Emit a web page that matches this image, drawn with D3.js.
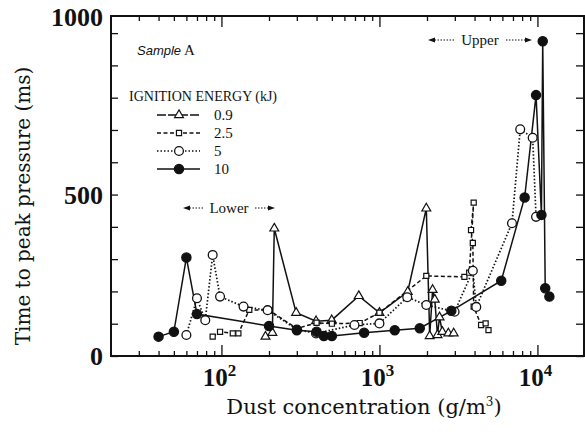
<!DOCTYPE html>
<html>
<head>
<meta charset="utf-8">
<script src="https://cdn.jsdelivr.net/npm/d3@7.9.0/dist/d3.min.js"></script>
<style>
  body { margin: 0; background: #fff; }
  svg { display: block; }
  text { fill: #111; }
</style>
</head>
<body>
<svg id="chart" width="585" height="436"></svg>
<script>
// data: [dust concentration g/m3, time to peak pressure ms]
const e09 = [[190,60],[210,72],[216,395],[297,134],[397,108],[499,111],[740,186],[1000,134],[1510,199],
  [1980,457],[2080,62],[2170,205],[2240,175],[2330,65],[2400,120],[2500,75],[2730,70],[2950,70]];
const e25 = [[88,60],[98,75],[118,70],[128,70],[150,143],[200,142],[300,85],[400,103],[500,100],[750,102],
  [1000,134],[1980,248],[3450,245],[3700,258],[3950,475],[3800,390],[3900,350],[3950,153],[4400,96],[4700,101],[4900,80]];
const e5 = [[60,65],[70,179],[79,111],[88,313],[98,184],[138,153],[196,142],[300,82],[397,70],[695,96],
  [1000,101],[1500,182],[1980,158],[2990,137],[3900,264],[4100,152],[6900,411],[7780,702],[9330,676],[9800,431]];
const e10 = [[40,60],[50,75],[60,305],[70,130],[200,93],[300,80],[400,75],[445,62],[500,62],[800,72],
  [1250,80],[1800,86],[2850,140],[5900,233],[8300,491],[9800,808],[10600,437],[10800,975],[11200,210],[11900,184]];

const energies = ['0.9', '2.5', '5', '10'];
const yTicks = [0,100,200,300,400,500,600,700,800,900,1000];
const yLabels = [0, 500, 1000];
const xDecades = [100, 1000, 10000];

const series = [
  { label: energies[0], data: e09, marker: 'triangle', dash: null },
  { label: energies[1], data: e25, marker: 'square', dash: '4,2.5' },
  { label: energies[2], data: e5, marker: 'open', dash: '1.5,2' },
  { label: energies[3], data: e10, marker: 'filled', dash: null }
];

const svg = d3.select('#chart');
const pLeft = 111, pRight = 584, pTop = 16, pBottom = 356;

const x = d3.scaleLog().domain([20, 20000]).range([pLeft, 585]);
const y = d3.scaleLinear().domain([0, 1053]).range([pBottom, pTop]);

const serif = "'Liberation Serif', 'DejaVu Serif', serif";
const wideSerif = "'DejaVu Serif', serif";

// minor log ticks
let xMinor = [];
for (const dec of [10, 100, 1000, 10000]) {
  for (let k = 2; k <= 9; k++) {
    const v = dec * k;
    if (v > 20 && v < 20000) xMinor.push(v);
  }
}

const axisStyle = g => {
  g.select('.domain').remove();
  g.selectAll('.tick line').attr('stroke', '#111').attr('stroke-width', 1.3);
  g.selectAll('.tick text').remove();
};

// bottom & top ticks
svg.append('g').attr('transform', `translate(0,${pBottom})`)
  .call(d3.axisBottom(x).tickValues(xMinor).tickSize(-5)).call(axisStyle);
svg.append('g').attr('transform', `translate(0,${pBottom})`)
  .call(d3.axisBottom(x).tickValues(xDecades).tickSize(-11)).call(axisStyle);
svg.append('g').attr('transform', `translate(0,${pTop})`)
  .call(d3.axisTop(x).tickValues(xMinor).tickSize(-5)).call(axisStyle);
svg.append('g').attr('transform', `translate(0,${pTop})`)
  .call(d3.axisTop(x).tickValues(xDecades).tickSize(-11)).call(axisStyle);

// left & right ticks
svg.append('g').attr('transform', `translate(${pLeft},0)`)
  .call(d3.axisLeft(y).tickValues(yTicks).tickSize(-7)).call(axisStyle);
svg.append('g').attr('transform', `translate(${pRight},0)`)
  .call(d3.axisRight(y).tickValues(yTicks).tickSize(-8)).call(axisStyle);

// frame
svg.append('rect')
  .attr('x', pLeft).attr('y', pTop)
  .attr('width', pRight - pLeft).attr('height', pBottom - pTop)
  .attr('fill', 'none').attr('stroke', '#111').attr('stroke-width', 2);

// y tick labels (the 1000 label sits at the top of the frame in the original)
svg.selectAll('.ylab').data(yLabels).join('text')
  .attr('x', 103)
  .attr('y', d => d === 1000 ? y(1050) : y(d))
  .attr('dy', '0.35em')
  .attr('text-anchor', 'end')
  .style('font-family', serif).style('font-weight', 'bold').style('font-size', '26px')
  .text(d => d);

// x tick labels 10^n
const xl = svg.selectAll('.xlab').data(xDecades).join('text')
  .attr('x', d => x(d) - 2)
  .attr('y', 386)
  .attr('text-anchor', 'middle')
  .style('font-family', serif).style('font-weight', 'bold').style('font-size', '25px');
xl.append('tspan').text('10');
xl.append('tspan').attr('dy', -10).style('font-size', '17px').text(d => Math.round(Math.log10(d)));

// axis titles
svg.append('text')
  .attr('x', 364).attr('y', 414).attr('text-anchor', 'middle')
  .style('font-family', wideSerif).style('font-size', '21px')
  .html('Dust concentration (g/m<tspan dy="-8" font-size="12">3</tspan><tspan dy="8">)</tspan>');

svg.append('text')
  .attr('transform', 'translate(30,206) rotate(-90)')
  .attr('text-anchor', 'middle')
  .style('font-family', wideSerif).style('font-size', '20px')
  .text('Time to peak pressure (ms)');

// lines
const line = d3.line().x(d => x(d[0])).y(d => y(d[1]));
series.forEach(s => {
  svg.append('path')
    .attr('d', line(s.data))
    .attr('fill', 'none')
    .attr('stroke', '#111')
    .attr('stroke-width', s.marker === 'open' ? 1.7 : 1.5)
    .attr('stroke-dasharray', s.dash);
});

function drawMarker(g, kind, cx, cy) {
  if (kind === 'filled' || kind === 'open') {
    g.append('circle').attr('cx', cx).attr('cy', cy).attr('r', kind === 'filled' ? 4.6 : 4.4)
      .attr('fill', kind === 'filled' ? '#111' : '#fff')
      .attr('stroke', '#111').attr('stroke-width', 1.3);
  } else {
    const sym = kind === 'square' ? d3.symbolSquare : d3.symbolTriangle;
    const size = kind === 'square' ? 26 : 34;
    g.append('path').attr('d', d3.symbol().type(sym).size(size)())
      .attr('transform', `translate(${cx},${cy})`)
      .attr('fill', '#fff').attr('stroke', '#111').attr('stroke-width', 1.2);
  }
}

series.forEach(s => {
  const g = svg.append('g');
  s.data.forEach(d => drawMarker(g, s.marker, x(d[0]), y(d[1])));
});

// legend
svg.append('text').attr('x', 137).attr('y', 55)
  .style('font-size', '13px')
  .html("<tspan font-family=\"'Liberation Sans', sans-serif\" font-style=\"italic\">Sample</tspan><tspan font-family=\"'Liberation Serif', serif\" font-size=\"15\"> A</tspan>");

svg.append('text').attr('x', 129).attr('y', 101)
  .style('font-family', serif).style('font-size', '14px')
  .text('IGNITION ENERGY (kJ)');

const legendY = [115, 133, 151, 169];
series.forEach((s, i) => {
  const g = svg.append('g');
  g.append('line').attr('x1', 157).attr('x2', 200).attr('y1', legendY[i]).attr('y2', legendY[i])
    .attr('stroke', '#111').attr('stroke-width', 1.4)
    .attr('stroke-dasharray', i === 0 ? '9,2' : s.dash);
  drawMarker(g, s.marker, 179, legendY[i]);
  g.append('text').attr('x', 214).attr('y', legendY[i]).attr('dy', '0.35em')
    .style('font-family', serif).style('font-size', '15px').text(s.label);
});

// range annotations
function rangeLabel(cx, cy, label, half) {
  const g = svg.append('g');
  g.append('text').attr('x', cx).attr('y', cy).attr('dy', '0.35em').attr('text-anchor', 'middle')
    .style('font-family', serif).style('font-size', '15px').text(label);
  const tw = 22;
  [-1, 1].forEach(sgn => {
    const x0 = cx + sgn * (tw + 4), x1 = cx + sgn * half;
    g.append('line').attr('x1', x0).attr('x2', x1 - sgn * 5).attr('y1', cy).attr('y2', cy)
      .attr('stroke', '#111').attr('stroke-width', 1.2).attr('stroke-dasharray', '1.5,1.5');
    g.append('path')
      .attr('d', `M${x1},${cy} L${x1 - sgn * 7},${cy - 2.5} L${x1 - sgn * 7},${cy + 2.5} Z`)
      .attr('fill', '#111');
  });
}
rangeLabel(229, 208, 'Lower', 46);
rangeLabel(480, 40, 'Upper', 52);
</script>
</body>
</html>
